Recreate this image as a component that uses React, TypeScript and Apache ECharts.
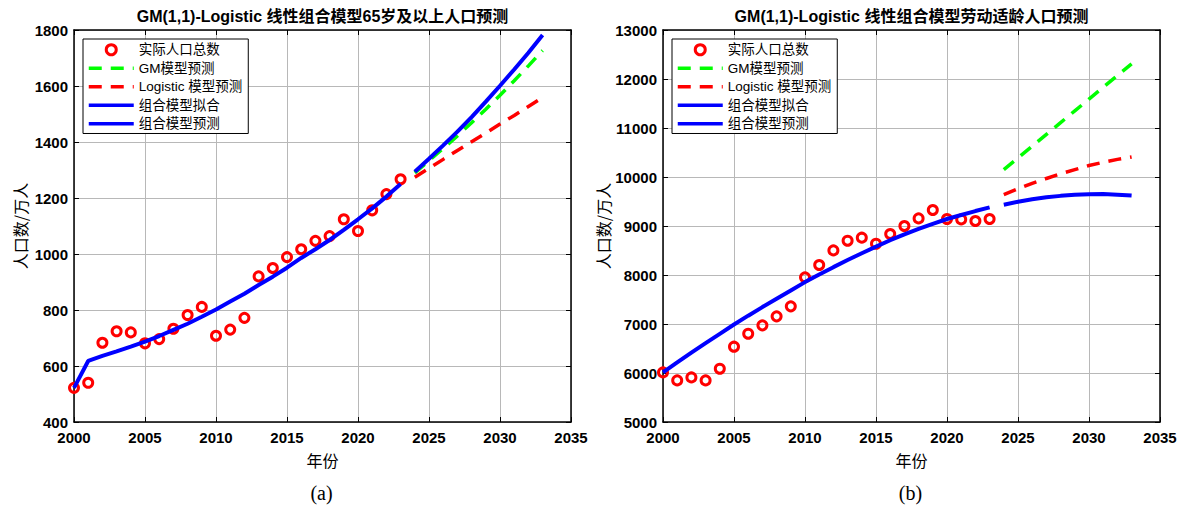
import { useEffect, useRef } from 'react';
import * as echarts from 'echarts';

const FONT = '"Liberation Sans", Arial, "Noto Sans CJK SC", sans-serif';
const CJK = '"Noto Sans CJK SC", "Liberation Sans", sans-serif';

const years = [2000, 2001, 2002, 2003, 2004, 2005, 2006, 2007, 2008, 2009, 2010, 2011, 2012, 2013, 2014, 2015, 2016, 2017, 2018, 2019, 2020, 2021, 2022, 2023];
const forecastYears = [2024, 2025, 2026, 2027, 2028, 2029, 2030, 2031, 2032, 2033];

// (a) 65岁及以上人口
const elderActual = [522, 540, 683, 724, 720, 681, 696, 733, 782, 811, 708, 730, 772, 920, 950, 989, 1017, 1047, 1064, 1124, 1082, 1156, 1214, 1267];
const elderFit = [522, 618, 636, 652, 669, 687, 707, 729, 751, 776, 802, 830, 858, 889, 919, 951, 986, 1017, 1050, 1086, 1124, 1163, 1205, 1250];
const elderComb = [1294, 1340, 1388, 1437, 1489, 1544, 1601, 1659, 1719, 1782];
const elderGM = [1290, 1333, 1377, 1422, 1469, 1517, 1567, 1619, 1672, 1727];
const elderLogistic = [1274, 1306, 1338, 1370, 1401, 1432, 1464, 1495, 1527, 1559];

// (b) 劳动适龄人口
const laborActual = [6012, 5849, 5910, 5849, 6088, 6537, 6802, 6972, 7156, 7360, 7952, 8204, 8502, 8700, 8762, 8639, 8837, 9000, 9155, 9327, 9143, 9135, 9102, 9143];
const laborFit = [6012, 6215, 6415, 6610, 6800, 6990, 7170, 7345, 7515, 7685, 7855, 8010, 8160, 8305, 8445, 8580, 8710, 8830, 8940, 9045, 9143, 9225, 9305, 9380];
const laborComb = [9435, 9495, 9545, 9585, 9615, 9638, 9650, 9652, 9640, 9620];
const laborGM = [10150, 10390, 10630, 10870, 11110, 11350, 11590, 11830, 12070, 12307];
const laborLogistic = [9639, 9760, 9870, 9970, 10065, 10150, 10235, 10300, 10360, 10410];

const titles = ['GM(1,1)-Logistic 线性组合模型65岁及以上人口预测', 'GM(1,1)-Logistic 线性组合模型劳动适龄人口预测'];
const captions = ['(a)', '(b)'];
const legendNames = ['实际人口总数', 'GM模型预测', 'Logistic 模型预测', '组合模型拟合', '组合模型预测'];
const xName = '年份';
const yName = '人口数/万人';

const pair = (xs: number[], ys: number[]) => xs.map((x, i) => [x, ys[i]]);

function buildPanel(i: number, left: number, yMin: number, yMax: number, yInt: number,
  actual: number[], fit: number[], comb: number[], gm: number[], logi: number[]) {
  const grid = { left, top: 30, width: 497, height: 392, containLabel: false };
  const black = { color: '#000', width: 1.5 };
  const tick = { show: true, inside: true, length: 5, lineStyle: { color: '#000', width: 1 } };
  const xAxes = [
    {
      type: 'value', gridIndex: i, min: 2000, max: 2035, interval: 5, position: 'bottom',
      axisLine: { show: true, onZero: false, lineStyle: black }, axisTick: tick,
      axisLabel: { color: '#000', fontSize: 15, fontWeight: 'bold', fontFamily: FONT, margin: 8, formatter: (v: number) => String(v) },
      splitLine: { show: true, lineStyle: { color: '#b8b8b8', width: 1 } },
      name: xName, nameLocation: 'middle', nameGap: 30,
      nameTextStyle: { color: '#000', fontSize: 16, fontFamily: CJK },
    },
    {
      type: 'value', gridIndex: i, min: 2000, max: 2035, interval: 5, position: 'top',
      axisLine: { show: true, onZero: false, lineStyle: black }, axisTick: tick,
      axisLabel: { show: false }, splitLine: { show: false },
    },
  ];
  const yAxes = [
    {
      type: 'value', gridIndex: i, min: yMin, max: yMax, interval: yInt, position: 'left',
      axisLine: { show: true, onZero: false, lineStyle: black }, axisTick: tick,
      axisLabel: { color: '#000', fontSize: 15, fontWeight: 'bold', fontFamily: FONT, margin: 6, formatter: (v: number) => String(v) },
      splitLine: { show: true, lineStyle: { color: '#b8b8b8', width: 1 } },
      name: yName, nameLocation: 'middle', nameGap: 46, nameRotate: 90,
      nameTextStyle: { color: '#000', fontSize: 16, fontFamily: CJK },
    },
    {
      type: 'value', gridIndex: i, min: yMin, max: yMax, interval: yInt, position: 'right',
      axisLine: { show: true, onZero: false, lineStyle: black }, axisTick: tick,
      axisLabel: { show: false }, splitLine: { show: false },
    },
  ];
  const ax = { xAxisIndex: 2 * i, yAxisIndex: 2 * i };
  const dash = [13, 9];
  const series = [
    {
      type: 'scatter', name: legendNames[0], ...ax, data: pair(years, actual),
      symbol: 'circle', symbolSize: 9,
      itemStyle: { color: 'rgba(0,0,0,0)', borderColor: '#ff0000', borderWidth: 3, opacity: 1 }, z: 2,
    },
    {
      type: 'line', name: legendNames[1], ...ax, data: pair(forecastYears, gm),
      symbol: 'none', showSymbol: false, itemStyle: { color: '#00ff00' },
      lineStyle: { color: '#00ff00', width: 3.5, type: dash }, z: 3,
    },
    {
      type: 'line', name: legendNames[2], ...ax, data: pair(forecastYears, logi),
      symbol: 'none', showSymbol: false, itemStyle: { color: '#ff0000' },
      lineStyle: { color: '#ff0000', width: 3.5, type: dash }, z: 3,
    },
    {
      type: 'line', name: legendNames[3], ...ax, data: pair(years, fit),
      symbol: 'none', showSymbol: false, itemStyle: { color: '#0000ff' },
      lineStyle: { color: '#0000ff', width: 4 }, z: 4,
    },
    {
      type: 'line', name: legendNames[4], ...ax, data: pair(forecastYears, comb),
      symbol: 'none', showSymbol: false, itemStyle: { color: '#0000ff' },
      lineStyle: { color: '#0000ff', width: 4 }, z: 5,
    },
  ];
  const legend = {
    data: legendNames.map((n, k) => (k === 0 ? { name: n } : { name: n, itemStyle: { opacity: 0 } })),
    orient: 'vertical', left: left + 9, top: 39,
    itemWidth: 45, itemHeight: 10, itemGap: 5, padding: [4, 6, 3, 4],
    borderColor: '#000', borderWidth: 1, backgroundColor: '#fff',
    selectedMode: false,
    lineStyle: { width: 3.5 },
    itemStyle: { borderWidth: 3 },
    textStyle: { color: '#000', fontSize: 13.5, fontFamily: FONT },
  };
  const center = left + 497 / 2;
  const graphics = [
    {
      type: 'text', x: center, y: 16,
      style: { text: titles[i], fill: '#000', fontSize: 16, fontWeight: 'bold', fontFamily: FONT,
        align: 'center', verticalAlign: 'middle', textAlign: 'center', textVerticalAlign: 'middle' },
    },
    {
      type: 'text', x: center - 1, y: 493,
      style: { text: captions[i], fill: '#000', fontSize: 20, fontFamily: '"Liberation Serif", "Times New Roman", serif',
        align: 'center', verticalAlign: 'middle', textAlign: 'center', textVerticalAlign: 'middle' },
    },
  ];
  return { grid, xAxes, yAxes, series, legend, graphics };
}

export default function App() {
  const ref = useRef<HTMLDivElement>(null);
  useEffect(() => {
    if (!ref.current) return;
    const chart = echarts.init(ref.current, undefined, { renderer: 'svg' });
    const a = buildPanel(0, 74, 400, 1800, 200, elderActual, elderFit, elderComb, elderGM, elderLogistic);
    const b = buildPanel(1, 663, 5000, 13000, 1000, laborActual, laborFit, laborComb, laborGM, laborLogistic);
    chart.setOption({
      animation: false,
      backgroundColor: '#fff',
      textStyle: { fontFamily: FONT },
      grid: [a.grid, b.grid],
      xAxis: [...a.xAxes, ...b.xAxes],
      yAxis: [...a.yAxes, ...b.yAxes],
      legend: [a.legend, b.legend],
      series: [...a.series, ...b.series],
      graphic: [...a.graphics, ...b.graphics],
    } as any);
    return () => chart.dispose();
  }, []);
  return (
    <div
      ref={ref}
      style={{ position: 'fixed', left: 0, top: 0, width: 1184, height: 508, background: '#fff' }}
    />
  );
}
